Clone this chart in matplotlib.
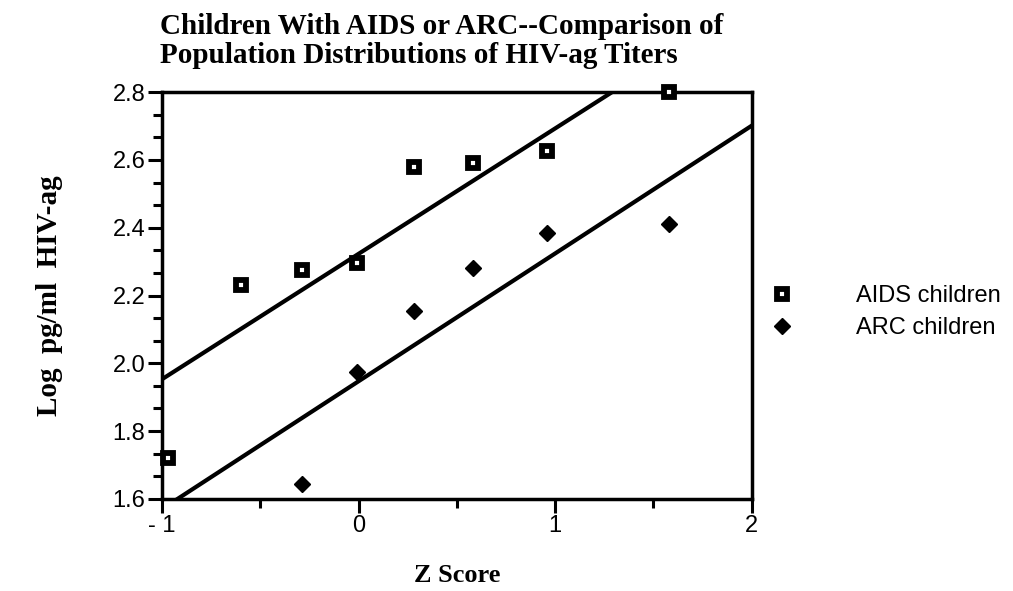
import numpy as np
import matplotlib
matplotlib.use('Agg')
import matplotlib.pyplot as plt
from matplotlib.ticker import MultipleLocator

# data
z_aids = [-0.97, -0.60, -0.29, -0.01, 0.28, 0.58, 0.96, 1.58]
log_aids = [1.72, 2.23, 2.275, 2.295, 2.58, 2.59, 2.625, 2.80]
z_arc = [-0.29, -0.01, 0.28, 0.58, 0.96, 1.58]
log_arc = [1.645, 1.975, 2.155, 2.28, 2.385, 2.41]

# fitted lines (slope, intercept)
fit_aids = (0.370, 2.323)
fit_arc = (0.377, 1.947)

x_ticks = [-1, 0, 1, 2]
x_labels = ['- 1', '0', '1', '2']
y_ticks = [1.6, 1.8, 2.0, 2.2, 2.4, 2.6, 2.8]

title_lines = ['Children With AIDS or ARC--Comparison of',
               'Population Distributions of HIV-ag Titers']

serif = 'Liberation Serif'
sans = 'Liberation Sans'

fig = plt.figure(figsize=(10.13, 5.91), dpi=100)
ax = fig.add_axes([0.160, 0.156, 0.582, 0.688])

# regression lines
xx = np.array([-1.2, 2.2])
ax.plot(xx, fit_aids[0] * xx + fit_aids[1], color='black', lw=3)
ax.plot(xx, fit_arc[0] * xx + fit_arc[1], color='black', lw=3)

# points
ax.plot(z_aids, log_aids, ls='none', marker='s', ms=6.5, mfc='white',
        mec='black', mew=4.2, label='AIDS children', clip_on=False, zorder=5)
ax.plot(z_arc, log_arc, ls='none', marker='D', ms=8.5, color='black',
        label='ARC children', zorder=5)

ax.set_xlim(-1, 2)
ax.set_ylim(1.6, 2.8)
ax.set_xticks(x_ticks)
ax.set_xticklabels(x_labels)
ax.set_yticks(y_ticks)
ax.set_yticklabels(['%.1f' % v for v in y_ticks])
ax.xaxis.set_minor_locator(MultipleLocator(0.5))
ax.yaxis.set_minor_locator(MultipleLocator(0.2 / 3))

for s in ax.spines.values():
    s.set_linewidth(2.5)
ax.tick_params(which='major', direction='out', length=10, width=2.2,
               labelsize=17, pad=2)
ax.tick_params(which='minor', direction='out', length=6.5, width=2.2)
for lab in ax.get_xticklabels() + ax.get_yticklabels():
    lab.set_fontfamily(sans)

ax.set_xlabel('Z Score', fontfamily=serif, fontweight='bold', fontsize=19,
              labelpad=19)
ax.set_ylabel('Log  pg/ml  HIV-ag', fontfamily=serif, fontweight='bold',
              fontsize=21, labelpad=36)

# two-line title, left aligned with the axes
fig.text(0.158, 1 - 34 / 591, title_lines[0], fontfamily=serif,
         fontweight='bold', fontsize=21, va='baseline', ha='left')
fig.text(0.158, 1 - 63 / 591, title_lines[1], fontfamily=serif,
         fontweight='bold', fontsize=21, va='baseline', ha='left')

leg = ax.legend(loc='center left', bbox_to_anchor=(0.996, 0.459),
                borderaxespad=0, frameon=False,
                prop={'family': sans, 'size': 17}, handletextpad=2.1,
                labelspacing=0.4, markerscale=1.0)

fig.savefig('out.png', dpi=100)
